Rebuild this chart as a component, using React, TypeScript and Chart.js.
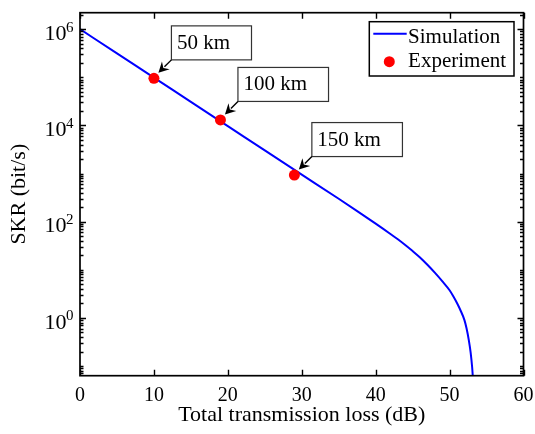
import React, { useEffect, useRef } from 'react';
import { Chart, registerables } from 'chart.js';
Chart.register(...registerables);

const FONT = "'Liberation Serif', 'Times New Roman', serif";

// Simulation curve (total loss in dB -> SKR in bit/s)
const simLoss = [0, 5, 10, 15, 20, 25, 30, 35, 37.5, 40, 42, 43, 44, 45, 46, 47, 48, 49, 50, 50.5, 51, 51.5, 52, 52.3, 52.6, 52.85, 53.05, 53.2];
const simSkr = [1.0e6, 3.14e5, 9.84e4, 3.09e4, 9.68e3, 3.03e3, 951, 299, 166, 91.2, 55.6, 43.0, 32.7, 24.5, 18.0, 12.7, 8.71, 5.82, 3.76, 2.82, 2.04, 1.41, 0.912, 0.603, 0.347, 0.191, 0.0955, 0.0447];

// Experimental points
const expLoss = [10, 19, 29];
const expSkr = [9.5e4, 1.3e4, 930];
const expLabels = ['50 km', '100 km', '150 km'];

// Axes
const xTicks = [0, 10, 20, 30, 40, 50, 60];
const yMajorExp = [0, 2, 4, 6];
const xMin = 0;
const xMax = 60;
const yMin = 0.063;
const yMax = 2.2e6;

const decorPlugin = {
  id: 'decor',
  afterDraw(chart: any) {
    const { ctx, chartArea: a, scales } = chart;
    const xs = scales.x;
    const ys = scales.y;
    ctx.save();
    // frame
    ctx.strokeStyle = '#000';
    ctx.lineWidth = 1.7;
    ctx.strokeRect(a.left, a.top, a.right - a.left, a.bottom - a.top);
    // ticks
    ctx.lineWidth = 1.4;
    ctx.beginPath();
    for (const v of xTicks) {
      const px = Math.round(xs.getPixelForValue(v)) + 0.5;
      ctx.moveTo(px, a.bottom);
      ctx.lineTo(px, a.bottom - 6);
      ctx.moveTo(px, a.top);
      ctx.lineTo(px, a.top + 6);
    }
    for (let e = -2; e <= 7; e++) {
      for (let m = 1; m <= 9; m++) {
        const v = m * Math.pow(10, e);
        if (v < ys.min || v > ys.max) continue;
        const major = m === 1 && yMajorExp.includes(e);
        const len = major ? 6 : 3.5;
        const py = Math.round(ys.getPixelForValue(v)) + 0.5;
        ctx.moveTo(a.left, py);
        ctx.lineTo(a.left + len, py);
        ctx.moveTo(a.right, py);
        ctx.lineTo(a.right - len, py);
      }
    }
    ctx.stroke();

    // y tick labels 10^n
    ctx.fillStyle = '#000';
    ctx.textAlign = 'left';
    ctx.textBaseline = 'alphabetic';
    for (const e of yMajorExp) {
      const py = ys.getPixelForValue(Math.pow(10, e));
      ctx.font = `15px ${FONT}`;
      const es = String(e);
      const ew = ctx.measureText(es).width;
      const ex = a.left - 6.5 - ew;
      ctx.fillText(es, ex, py + 2.4);
      ctx.font = `22px ${FONT}`;
      const tw = ctx.measureText('10').width;
      ctx.fillText('10', ex - tw + 0.5, py + 10.8);
    }

    // annotations
    ctx.font = `21px ${FONT}`;
    for (let i = 0; i < expLabels.length; i++) {
      const px = xs.getPixelForValue(expLoss[i]);
      const py = ys.getPixelForValue(expSkr[i]);
      const bx = px + 17.5;
      const by = py - 18.5;
      const tw = ctx.measureText(expLabels[i]).width;
      const w = tw + 27;
      const h = 34;
      ctx.fillStyle = '#fff';
      ctx.fillRect(bx, by - h, w, h);
      ctx.strokeStyle = '#333';
      ctx.lineWidth = 1.2;
      ctx.strokeRect(bx, by - h, w, h);
      ctx.fillStyle = '#000';
      ctx.textBaseline = 'middle';
      ctx.fillText(expLabels[i], bx + 5.5, by - h / 2 + 0.5);
      // arrow
      const tx = px + 4.5;
      const ty = py - 5.5;
      const ang = Math.atan2(ty - by, tx - bx);
      const L = 10.5;
      const W = 5.5;
      const bxh = tx - L * Math.cos(ang);
      const byh = ty - L * Math.sin(ang);
      ctx.strokeStyle = '#000';
      ctx.lineWidth = 1.4;
      ctx.beginPath();
      ctx.moveTo(bx, by);
      ctx.lineTo(bxh + 2 * Math.cos(ang), byh + 2 * Math.sin(ang));
      ctx.stroke();
      ctx.beginPath();
      ctx.moveTo(tx, ty);
      ctx.lineTo(bxh - W * Math.sin(ang), byh + W * Math.cos(ang));
      ctx.lineTo(bxh + 3.5 * Math.cos(ang), byh + 3.5 * Math.sin(ang));
      ctx.lineTo(bxh + W * Math.sin(ang), byh - W * Math.cos(ang));
      ctx.closePath();
      ctx.fillStyle = '#000';
      ctx.fill();
    }

    // legend
    const ds = chart.data.datasets;
    const lw = 144.7;
    const lh = 54.3;
    const lx = a.right - 9.5 - lw;
    const ly = a.top + 9;
    ctx.fillStyle = '#fff';
    ctx.fillRect(lx, ly, lw, lh);
    ctx.strokeStyle = '#000';
    ctx.lineWidth = 1.5;
    ctx.strokeRect(lx, ly, lw, lh);
    ctx.strokeStyle = ds[0].borderColor;
    ctx.lineWidth = 2;
    ctx.beginPath();
    ctx.moveTo(lx + 4, ly + 12);
    ctx.lineTo(lx + 37.4, ly + 12);
    ctx.stroke();
    ctx.fillStyle = ds[1].backgroundColor;
    ctx.beginPath();
    ctx.arc(lx + 20, ly + 40, 5.5, 0, Math.PI * 2);
    ctx.fill();
    ctx.fillStyle = '#000';
    ctx.font = `21px ${FONT}`;
    ctx.textBaseline = 'middle';
    ctx.fillText(ds[0].label, lx + 38.8, ly + 15.8);
    ctx.fillText(ds[1].label, lx + 38.8, ly + 40);
    ctx.restore();
  },
};

export default function App() {
  const ref = useRef<HTMLCanvasElement>(null);
  useEffect(() => {
    const chart = new Chart(ref.current as HTMLCanvasElement, {
      type: 'scatter',
      data: {
        datasets: [
          {
            label: 'Simulation',
            data: simLoss.map((x, i) => ({ x, y: simSkr[i] })),
            showLine: true,
            borderColor: '#0000ff',
            backgroundColor: '#0000ff',
            borderWidth: 2,
            pointRadius: 0,
            cubicInterpolationMode: 'monotone',
            order: 2,
          },
          {
            label: 'Experiment',
            data: expLoss.map((x, i) => ({ x, y: expSkr[i] })),
            showLine: false,
            borderColor: '#ff0000',
            backgroundColor: '#ff0000',
            pointRadius: 5.5,
            pointBorderWidth: 0,
            order: 1,
          },
        ],
      } as any,
      options: {
        animation: false,
        responsive: false,
        devicePixelRatio: 1,
        layout: { padding: { top: 12.7, right: 11.5, left: 0, bottom: 0 } },
        plugins: { legend: { display: false }, tooltip: { enabled: false } },
        scales: {
          x: {
            type: 'linear',
            min: xMin,
            max: xMax,
            afterBuildTicks: (s: any) => {
              s.ticks = xTicks.map((v) => ({ value: v }));
            },
            ticks: { color: '#000', font: { family: FONT, size: 20 }, padding: 8.5, maxRotation: 0 },
            grid: { display: false, drawTicks: false },
            border: { display: false },
            title: {
              display: true,
              text: 'Total transmission loss (dB)',
              color: '#000',
              font: { family: FONT, size: 22 },
              padding: { top: 0, bottom: 6 },
            },
            afterFit: (s: any) => {
              s.height = 58.3;
              s.paddingLeft = 0;
              s.paddingRight = 0;
            },
          },
          y: {
            type: 'logarithmic',
            min: yMin,
            max: yMax,
            ticks: { display: false },
            grid: { display: false, drawTicks: false },
            border: { display: false },
            title: {
              display: true,
              text: 'SKR (bit/s)',
              color: '#000',
              font: { family: FONT, size: 22 },
              padding: { top: 6.5, bottom: 0 },
            },
            afterFit: (s: any) => {
              s.width = 80;
              s.paddingTop = 0;
              s.paddingBottom = 0;
            },
          },
        },
      } as any,
      plugins: [decorPlugin],
    });
    return () => chart.destroy();
  }, []);
  return (
    <div style={{ position: 'fixed', left: 0, top: 0, width: 535, height: 434, background: '#fff' }}>
      <canvas ref={ref} width={535} height={434} style={{ width: 535, height: 434, display: 'block' }} />
    </div>
  );
}
